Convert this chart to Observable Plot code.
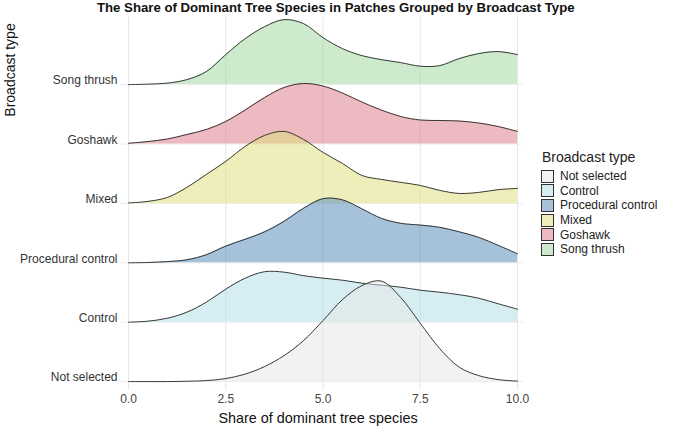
<!DOCTYPE html>
<html>
<head>
<meta charset="utf-8">
<script src="https://cdn.jsdelivr.net/npm/d3@7"></script>
<script src="https://cdn.jsdelivr.net/npm/@observablehq/plot@0.6"></script>
<style>
  body { margin: 0; background: #fff; font-family: "Liberation Sans", Arial, sans-serif; }
  #wrap { position: relative; width: 675px; height: 428px; overflow: hidden; }
  #title { height: 17px; padding-left: 97px; font-weight: bold; font-size: 13.2px; line-height: 16px; color: #111; white-space: nowrap; }
  #ytitle { position: absolute; left: 10px; top: 70px; transform: translate(-50%, -50%) rotate(-90deg); font-size: 14px; color: #111; white-space: nowrap; }
  #xtitle { position: absolute; left: 318px; top: 418px; transform: translate(-50%, -50%); font-size: 14.4px; color: #111; white-space: nowrap; }
  #legend { position: absolute; left: 541px; top: 149px; color: #222; }
  #legend .lt { font-size: 14px; margin-bottom: 4px; margin-left: 1px; }
  #legend .it { display: flex; align-items: center; height: 14.6px; font-size: 12px; }
  #legend .sw { width: 13px; height: 13px; border: 1px solid #333; box-sizing: border-box; margin-right: 6px; }
</style>
</head>
<body>
<div id="wrap">
  <div id="title">The Share of Dominant Tree Species in Patches Grouped by Broadcast Type</div>
  <div id="chart"></div>
  <div id="ytitle">Broadcast type</div>
  <div id="xtitle">Share of dominant tree species</div>
  <div id="legend"></div>
</div>
<script>
// Broadcast types, bottom ridge first
const categories = ["Not selected", "Control", "Procedural control", "Mixed", "Goshawk", "Song thrush"];
const colors = ["#e5e5e5", "#addde5", "#4b85b5", "#dddd77", "#d97581", "#9bd599"];

// Share of dominant tree species where each ridge is sampled
const share = [0, 0.5, 1, 1.5, 2, 2.5, 3, 3.5, 4, 4.5, 5, 5.5, 6, 6.5, 7, 7.5, 8, 8.5, 9, 9.5, 10];

// Ridge heights (scaled density, in units of the spacing between ridges)
const notSelected = [0, 0, 0, 0.005, 0.017, 0.051, 0.126, 0.253, 0.438, 0.690, 1.027, 1.380, 1.616, 1.692, 1.414, 0.981, 0.556, 0.244, 0.101, 0.034, 0.008];
const control = [0, 0.017, 0.067, 0.168, 0.337, 0.556, 0.741, 0.850, 0.842, 0.783, 0.741, 0.707, 0.657, 0.623, 0.589, 0.539, 0.505, 0.463, 0.404, 0.311, 0.219];
const proceduralControl = [0, 0.005, 0.020, 0.051, 0.135, 0.281, 0.396, 0.522, 0.699, 0.918, 1.080, 1.060, 0.909, 0.749, 0.665, 0.635, 0.598, 0.522, 0.429, 0.295, 0.152];
const mixed = [0.008, 0.034, 0.101, 0.269, 0.488, 0.707, 0.960, 1.145, 1.212, 1.077, 0.859, 0.673, 0.471, 0.404, 0.354, 0.303, 0.219, 0.168, 0.185, 0.231, 0.253];
const goshawk = [0.012, 0.042, 0.084, 0.160, 0.244, 0.379, 0.572, 0.783, 0.951, 1.019, 0.976, 0.859, 0.707, 0.572, 0.463, 0.404, 0.396, 0.387, 0.354, 0.295, 0.212];
const songThrush = [0, 0.008, 0.025, 0.084, 0.219, 0.505, 0.774, 0.976, 1.094, 1.027, 0.791, 0.606, 0.488, 0.421, 0.370, 0.310, 0.320, 0.438, 0.522, 0.556, 0.505];

const xTicks = [0, 2.5, 5, 7.5, 10];

const series = [notSelected, control, proceduralControl, mixed, goshawk, songThrush];
const rows = series.flatMap((vals, i) =>
  vals.map((h, j) => ({ type: categories[i], x: share[j], base: i, top: i + h }))
);
const levels = categories.map((c, i) => i);

// Ridges are stacked top-down so lower ones overlap the ones above
const ridgeMarks = categories.slice().reverse().flatMap(type => [
  Plot.areaY(rows.filter(d => d.type === type), {
    x: "x", y1: "base", y2: "top", fill: "type", fillOpacity: 0.5, curve: "catmull-rom"
  }),
  Plot.lineY(rows.filter(d => d.type === type), {
    x: "x", y: "top", stroke: "#262626", strokeWidth: 0.9, curve: "catmull-rom"
  })
]);

const chart = Plot.plot({
  width: 675,
  height: 411,
  marginLeft: 128,
  marginRight: 158,
  marginTop: 0,
  marginBottom: 38,
  style: { fontFamily: "Liberation Sans, Arial, sans-serif", fontSize: "12px", color: "#333", background: "transparent" },
  x: { domain: [0, 10], axis: null },
  y: { domain: [-0.15, 6.13], axis: null },
  color: { domain: categories, range: colors },
  marks: [
    Plot.ruleX(xTicks, { x: d => d, y1: -0.15, y2: 6.13, stroke: "#e6e6e6", strokeWidth: 1 }),
    Plot.ruleY(levels, { y: d => d, x1: -0.2, x2: 10.15, stroke: "#ececec", strokeWidth: 1 }),
    ...ridgeMarks,
    Plot.axisY(levels, {
      tickSize: 0, tickPadding: 11, dy: -4, label: null,
      tickFormat: i => categories[i], fill: "#333", fontSize: 12
    }),
    Plot.axisX(xTicks, {
      tickSize: 0, tickPadding: 4, label: null,
      tickFormat: d3.format(".1f"), fill: "#444", fontSize: 12
    })
  ]
});
document.getElementById("chart").appendChild(chart);

// Legend: swatch colours are the half-transparent fills as seen on white
const legend = document.getElementById("legend");
const lt = document.createElement("div");
lt.className = "lt";
lt.textContent = "Broadcast type";
legend.appendChild(lt);
categories.forEach((c, i) => {
  const it = document.createElement("div");
  it.className = "it";
  const sw = document.createElement("div");
  sw.className = "sw";
  sw.style.background = d3.interpolateRgb("#ffffff", colors[i])(0.5);
  const tx = document.createElement("span");
  tx.textContent = c;
  it.appendChild(sw);
  it.appendChild(tx);
  legend.appendChild(it);
});
</script>
</body>
</html>
